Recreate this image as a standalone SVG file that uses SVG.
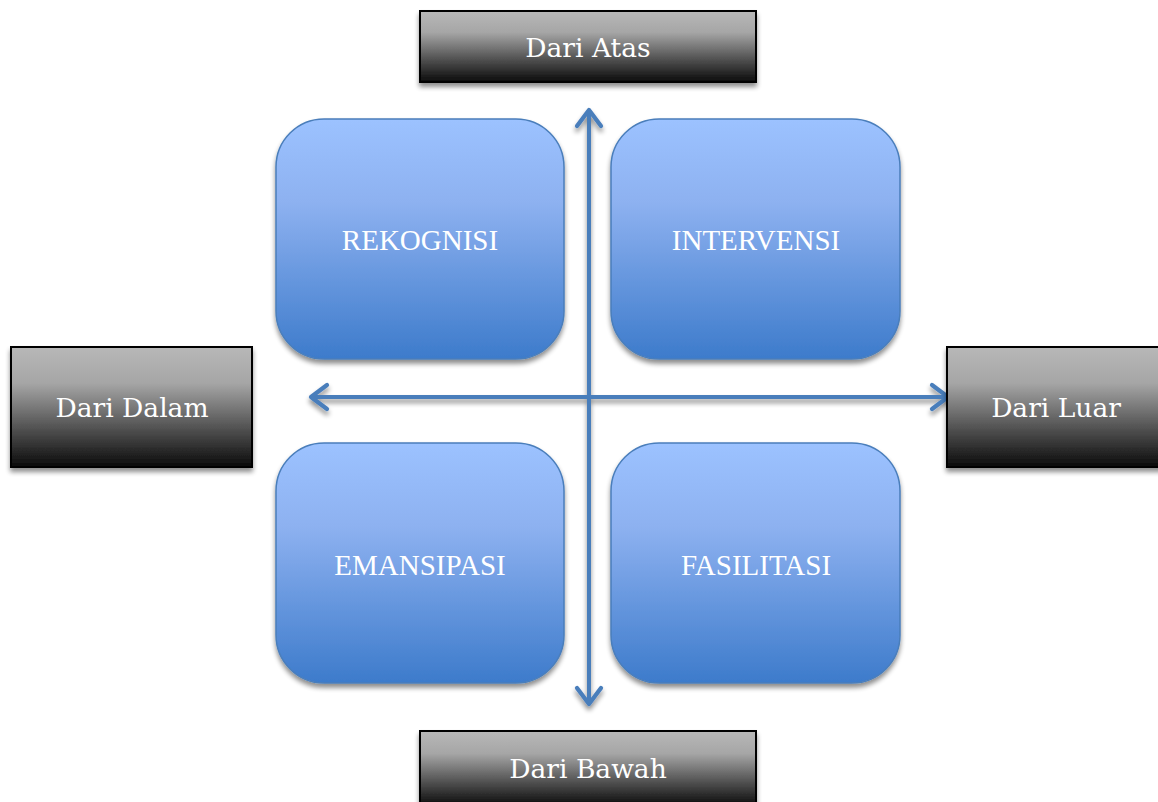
<svg xmlns="http://www.w3.org/2000/svg" width="1158" height="802" viewBox="0 0 1158 802">
<defs>
<linearGradient id="gBlue" x1="0" y1="0" x2="0" y2="1">
<stop offset="0" stop-color="#9cc2ff"/>
<stop offset="0.35" stop-color="#8db1f0"/>
<stop offset="1" stop-color="#3d7bcb"/>
</linearGradient>
<linearGradient id="gGray" x1="0" y1="0" x2="0" y2="1">
<stop offset="0" stop-color="#b8b8b8"/>
<stop offset="0.3" stop-color="#a6a6a6"/>
<stop offset="1" stop-color="#0a0a0a"/>
</linearGradient>
<filter id="sh" x="-10%" y="-10%" width="125%" height="130%">
<feGaussianBlur in="SourceAlpha" stdDeviation="2.5"/>
<feOffset dx="0" dy="4" result="b"/>
<feComponentTransfer><feFuncA type="linear" slope="0.45"/></feComponentTransfer>
<feMerge><feMergeNode/><feMergeNode in="SourceGraphic"/></feMerge>
</filter>
<marker id="ah" viewBox="0 0 12 12" refX="10" refY="6" markerWidth="8" markerHeight="8" orient="auto-start-reverse" markerUnits="strokeWidth">
<polyline points="4,1.5 10,6 4,10.5" fill="none" stroke="#4a7ebb" stroke-width="1.6" stroke-linecap="round" stroke-linejoin="round"/>
</marker>
</defs>
<style>
.q{fill:url(#gBlue);stroke:#4a7ebb;stroke-width:1.5;filter:url(#sh)}
.d{fill:url(#gGray);stroke:#000;stroke-width:2;filter:url(#sh)}
.t{font-family:"Liberation Serif","DejaVu Serif",serif;fill:#fff;text-anchor:middle;font-size:29px}
.g{font-family:"DejaVu Serif","Liberation Serif",serif;fill:#fff;text-anchor:middle;font-size:26.5px}
.c{fill:none;stroke:#4a7ebb;stroke-width:4;marker-start:url(#ah);marker-end:url(#ah)}
</style>
<rect width="1158" height="802" fill="#fff"/>
<g id="connectors" filter="url(#sh)">
<line class="c" x1="589" y1="110" x2="589" y2="704"/>
<line class="c" x1="311" y1="397" x2="948" y2="397"/>
</g>
<g id="rekognisi"><rect class="q" x="276" y="119" width="288" height="240" rx="48"/><text class="t" x="420" y="250">REKOGNISI</text></g>
<g id="intervensi"><rect class="q" x="611" y="119" width="289" height="240" rx="48"/><text class="t" x="756" y="250">INTERVENSI</text></g>
<g id="emansipasi"><rect class="q" x="276" y="443" width="288" height="240" rx="48"/><text class="t" x="420" y="575">EMANSIPASI</text></g>
<g id="fasilitasi"><rect class="q" x="611" y="443" width="289" height="240" rx="48"/><text class="t" x="756" y="575">FASILITASI</text></g>
<g id="dari-atas"><rect class="d" x="420" y="11" width="336" height="71"/><text class="g" x="588" y="57">Dari Atas</text></g>
<g id="dari-dalam"><rect class="d" x="11" y="347" width="241" height="120"/><text class="g" x="132" y="417">Dari Dalam</text></g>
<g id="dari-luar"><rect class="d" x="947" y="347" width="215" height="120"/><text class="g" x="1056" y="417">Dari Luar</text></g>
<g id="dari-bawah"><rect class="d" x="420" y="731" width="336" height="75"/><text class="g" x="588" y="778">Dari Bawah</text></g>
</svg>
